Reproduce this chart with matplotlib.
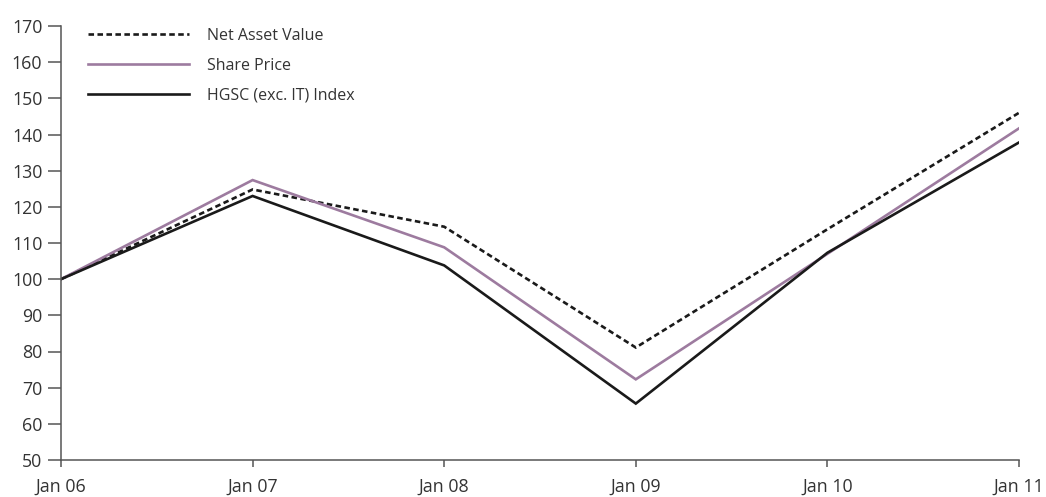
import matplotlib
matplotlib.use("Agg")
import matplotlib.pyplot as plt

# Rebased performance (Jan 06 = 100)
periods = ["Jan 06", "Jan 07", "Jan 08", "Jan 09", "Jan 10", "Jan 11"]
nav = [100, 124.8, 114.5, 81.1, 113.8, 146.0]
share_price = [100, 127.4, 108.8, 72.3, 107.0, 141.7]
index = [100, 123.0, 103.8, 65.6, 107.3, 137.8]
y_ticks = list(range(50, 171, 10))

plt.rcParams["font.family"] = ["Open Sans", "DejaVu Sans"]

fig = plt.figure(figsize=(10.46, 4.97), dpi=100)
ax = fig.add_axes([61 / 1046, 37 / 497, (1019 - 61) / 1046, (460 - 26) / 497])

x = list(range(len(periods)))
ax.plot(x, nav, color="#1a1a1a", lw=1.9, linestyle=(0, (2.1, 1.3)),
        label="Net Asset Value", solid_joinstyle="miter", dash_joinstyle="miter")
ax.plot(x, share_price, color="#9d7b9f", lw=1.9, label="Share Price",
        solid_joinstyle="miter")
ax.plot(x, index, color="#1a1a1a", lw=1.9, label="HGSC (exc. IT) Index",
        solid_joinstyle="miter")

ax.set_xlim(0, len(periods) - 1)
ax.set_ylim(50, 170)
ax.set_xticks(x)
ax.set_xticklabels(periods)
ax.set_yticks(y_ticks)

for side in ("top", "right"):
    ax.spines[side].set_visible(False)
for side in ("left", "bottom"):
    ax.spines[side].set_color("#555555")
    ax.spines[side].set_linewidth(1.1)

ax.tick_params(axis="y", direction="out", length=9.5, width=1.1, color="#555555",
               labelsize=12.8, labelcolor="#333333", pad=4)
ax.tick_params(axis="x", direction="out", length=5, width=1.1, color="#555555",
               labelsize=12.8, labelcolor="#333333", pad=8)

leg = ax.legend(loc="upper left", bbox_to_anchor=(0.022, 1.01), frameon=False,
                fontsize=11.5, handlelength=6.3, handletextpad=1.15,
                labelspacing=0.85, borderaxespad=0)
for t in leg.get_texts():
    t.set_color("#333333")

fig.savefig("out.png", dpi=100)
